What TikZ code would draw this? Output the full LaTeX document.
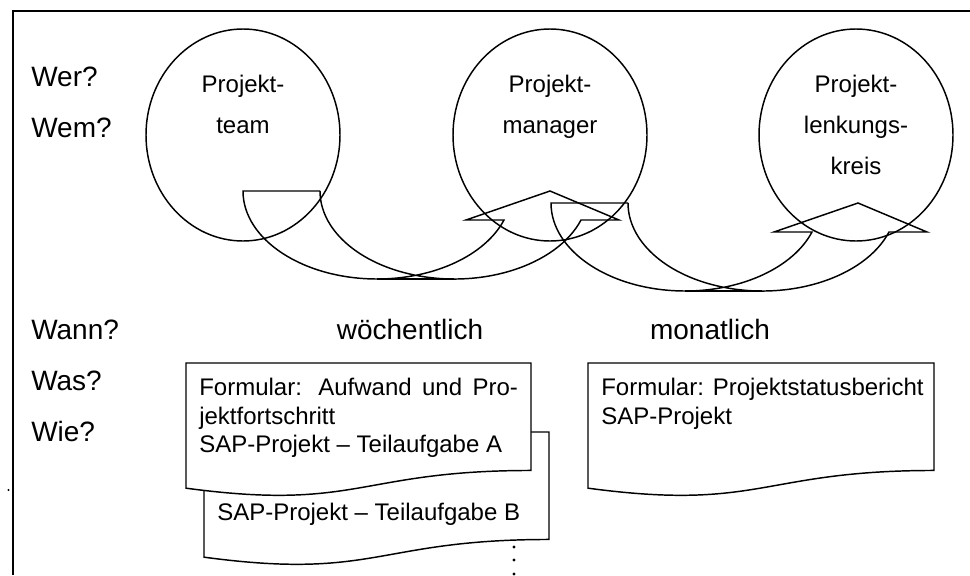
\documentclass[tikz,border=0pt]{standalone}
\usepackage{fontspec}
\setmainfont{Liberation Sans}
\usetikzlibrary{shapes.geometric}

% Curved up arrow: tail at the left top (#1,#2), head pointing up at the right
\newcommand\bentarrow[2]{%
  \draw[strokeline] ({#1+77},{#2}) -- ({#1},{#2})
    arc[start angle=180,end angle=19.24,x radius=134.25,y radius=88]
    -- ({#1+223},{#2+29}) -- ({#1+307},{#2}) -- ({#1+376},{#2+29}) -- ({#1+338},{#2+29})
    arc[start angle=19.24,end angle=180,x radius=134.25,y radius=88];
  \draw[strokeline] ({#1+134.25},{#2+88}) -- ({#1+211.25},{#2+88});
}
% Document sheet with a wavy lower edge: left, top, width, height
\newcommand\docpath[4]{%
  ({#1},{#2}) -- ({#1+#3},{#2}) -- ({#1+#3},{#2+0.802*#4})
  .. controls ({#1+0.5*#3},{#2+0.802*#4}) and ({#1+0.5*#3},{#2+1.1075*#4}) ..
  ({#1},{#2+0.934*#4}) -- cycle}

\tikzset{
  strokeline/.style={line width=1.1pt, line join=miter},
  role/.style={ellipse, draw, line width=1.1pt, minimum width=145.5pt,
    minimum height=159pt, inner sep=0pt, outer sep=0pt},
  sheet/.style={line width=1.1pt, fill=white},
  rowlabel/.style={font=\fontsize{21}{25}\selectfont, anchor=base west, inner sep=0pt},
  colhead/.style={font=\fontsize{21}{25}\selectfont, anchor=base, inner sep=0pt},
  roletext/.style={font=\fontsize{18}{22}\selectfont, anchor=base, inner sep=0pt},
  bodytext/.style={font=\fontsize{18}{22}\selectfont, anchor=base west, inner sep=0pt},
}

\begin{document}
\begin{tikzpicture}[x=0.75pt, y=-0.75pt]
\useasboundingbox (0,0) rectangle (970,575);

% frame
\draw[line width=1.5pt] (970,11) -- (12.5,11) -- (12.5,575);
\fill (8.5,490) circle[radius=1.2];

% roles
\node[role] (team) at (243,135) {};
\node[role] (manager) at (550,135) {};
\node[role] (board) at (856,135) {};

\node[roletext] (t1) at (243,92) {Projekt-};
\node[roletext] (t2) at (243,133) {team};
\node[roletext] (m1) at (550,92) {Projekt-};
\node[roletext] (m2) at (550,133) {manager};
\node[roletext] (b1) at (856,92) {Projekt-};
\node[roletext] (b2) at (856,133) {lenkungs-};
\node[roletext] (b3) at (856,174) {kreis};

% reporting arrows
\bentarrow{243}{191}
\bentarrow{551}{203}

% row labels
\node[rowlabel] (wer) at (31,86) {Wer?};
\node[rowlabel] (wem) at (31,137) {Wem?};
\node[rowlabel] (wann) at (31,339) {Wann?};
\node[rowlabel] (was) at (31,390) {Was?};
\node[rowlabel] (wie) at (31,441) {Wie?};

\node[colhead] (weekly) at (410,339) {wöchentlich};
\node[colhead] (monthly) at (710,339) {monatlich};

% report forms
\draw[sheet] \docpath{204}{432}{345}{134};
\draw[sheet] \docpath{186}{363}{345}{134};
\draw[sheet] \docpath{588}{363}{346}{134};

\node[bodytext] (fa1) at (199,395) {\makebox[239pt][s]{Formular: Aufwand und Pro-}};
\node[bodytext] (fa2) at (199,424) {jektfortschritt};
\node[bodytext] (fa3) at (199,452) {SAP-Projekt – Teilaufgabe A};
\node[bodytext] (fb1) at (217,520) {SAP-Projekt – Teilaufgabe B};
\node[bodytext] (fs1) at (601,395) {Formular: Projektstatusbericht};
\node[bodytext] (fs2) at (601,424) {SAP-Projekt};

% continuation dots
\fill (514,547) circle[radius=1.6];
\fill (514,560) circle[radius=1.6];
\fill (514,574) circle[radius=1.6];
\end{tikzpicture}
\end{document}
